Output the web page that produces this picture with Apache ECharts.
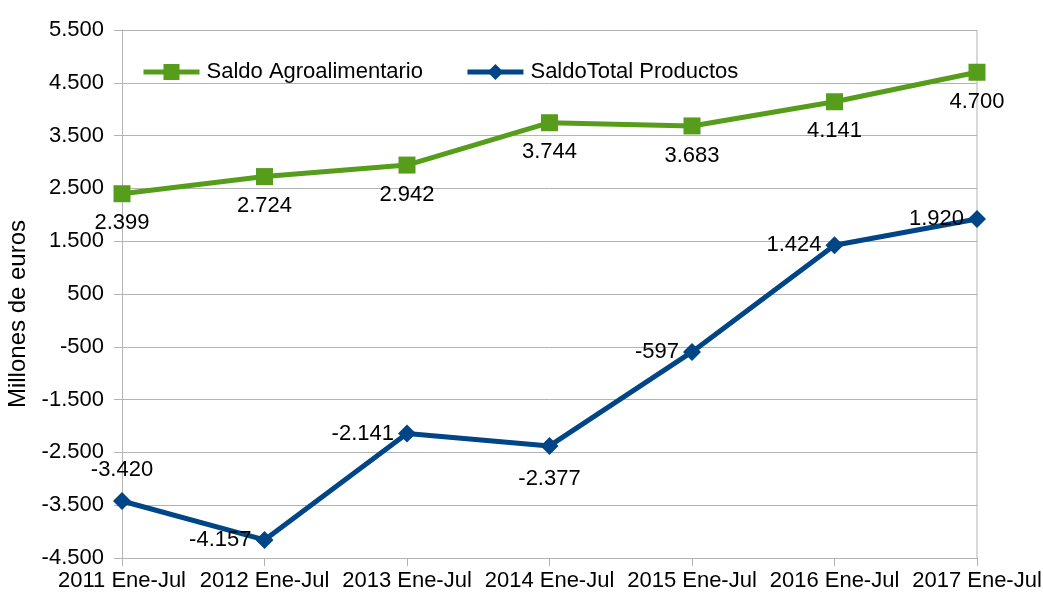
<!DOCTYPE html>
<html>
<head>
<meta charset="utf-8">
<script src="https://cdn.jsdelivr.net/npm/echarts@6/dist/echarts.min.js"></script>
<style>
  html, body { margin: 0; padding: 0; background: #fff; }
  #chart { width: 1043px; height: 600px; }
</style>
</head>
<body>
<div id="chart"></div>
<script>
// categorias del eje x
var categories = ['2011 Ene-Jul', '2012 Ene-Jul', '2013 Ene-Jul', '2014 Ene-Jul', '2015 Ene-Jul', '2016 Ene-Jul', '2017 Ene-Jul'];
// series (millones de euros)
var saldoAgro = [2399, 2724, 2942, 3744, 3683, 4141, 4700];
var saldoTotal = [-3420, -4157, -2141, -2377, -597, 1424, 1920];
// eje y
var yMin = -4500, yMax = 5500, yStep = 1000;

var FONT = 'Liberation Sans';

// formato con punto de miles
function fmt(v) {
  var s = String(Math.abs(v)).replace(/\B(?=(\d{3})+(?!\d))/g, '.');
  return (v < 0 ? '-' : '') + s;
}

// posicion de etiquetas de la serie azul
var bluePos = ['top', 'left', 'left', 'bottom', 'left', 'left', 'left'];
var blueDist = { top: 11, bottom: 13, left: 4 };

var chart = echarts.init(document.getElementById('chart'));
chart.setOption({
  animation: false,
  textStyle: { fontFamily: FONT },
  grid: { left: 122, right: 66, top: 30, bottom: 42, containLabel: false, outerBoundsMode: 'none' },
  legend: {
    top: 56,
    left: 136,
    itemGap: 42,
    itemWidth: 56,
    itemHeight: 20,
    lineStyle: { width: 5 },
    textStyle: { fontFamily: FONT, fontSize: 22, color: '#000', padding: [0, 0, 0, 2] },
    data: ['Saldo Agroalimentario', 'SaldoTotal Productos']
  },
  xAxis: {
    type: 'category',
    boundaryGap: false,
    data: categories,
    axisLine: { onZero: false, lineStyle: { color: '#b3b3b3', width: 1 } },
    axisTick: { show: true, alignWithLabel: true, length: 8, lineStyle: { color: '#b3b3b3' } },
    axisLabel: { interval: 0, fontFamily: FONT, fontSize: 22, color: '#000', margin: 12 },
    splitLine: { show: false }
  },
  yAxis: {
    type: 'value',
    min: yMin,
    max: yMax,
    interval: yStep,
    name: 'Millones de euros',
    nameLocation: 'middle',
    nameGap: 85,
    nameTextStyle: { fontFamily: FONT, fontSize: 24, color: '#000', padding: [0, 40, 0, 0] },
    axisLine: { show: true, lineStyle: { color: '#b3b3b3' } },
    axisTick: { show: true, length: 8, lineStyle: { color: '#b3b3b3' } },
    axisLabel: { fontFamily: FONT, fontSize: 22, color: '#000', margin: 18, formatter: fmt },
    splitLine: { lineStyle: { color: '#b3b3b3', width: 1 } }
  },
  series: [
    {
      name: 'Saldo Agroalimentario',
      type: 'line',
      data: saldoAgro,
      symbol: 'rect',
      symbolSize: 17,
      itemStyle: { color: '#579d1c' },
      lineStyle: { color: '#579d1c', width: 5 },
      label: {
        show: true,
        position: 'bottom',
        distance: 10,
        fontFamily: FONT,
        fontSize: 22,
        color: '#000',
        formatter: function (p) { return fmt(p.value); }
      },
      z: 3
    },
    {
      name: 'SaldoTotal Productos',
      type: 'line',
      data: saldoTotal.map(function (v, i) {
        return { value: v, label: { position: bluePos[i], distance: blueDist[bluePos[i]] } };
      }),
      symbol: 'diamond',
      symbolSize: 18,
      itemStyle: { color: '#004586' },
      lineStyle: { color: '#004586', width: 5 },
      label: {
        show: true,
        fontFamily: FONT,
        fontSize: 22,
        color: '#000',
        formatter: function (p) { return fmt(p.value); }
      },
      z: 3
    }
  ],
  graphic: [
    {
      type: 'line',
      shape: { x1: 977, y1: 30, x2: 977, y2: 558 },
      style: { stroke: '#b3b3b3', lineWidth: 1 },
      z: 0
    }
  ]
});
</script>
</body>
</html>
